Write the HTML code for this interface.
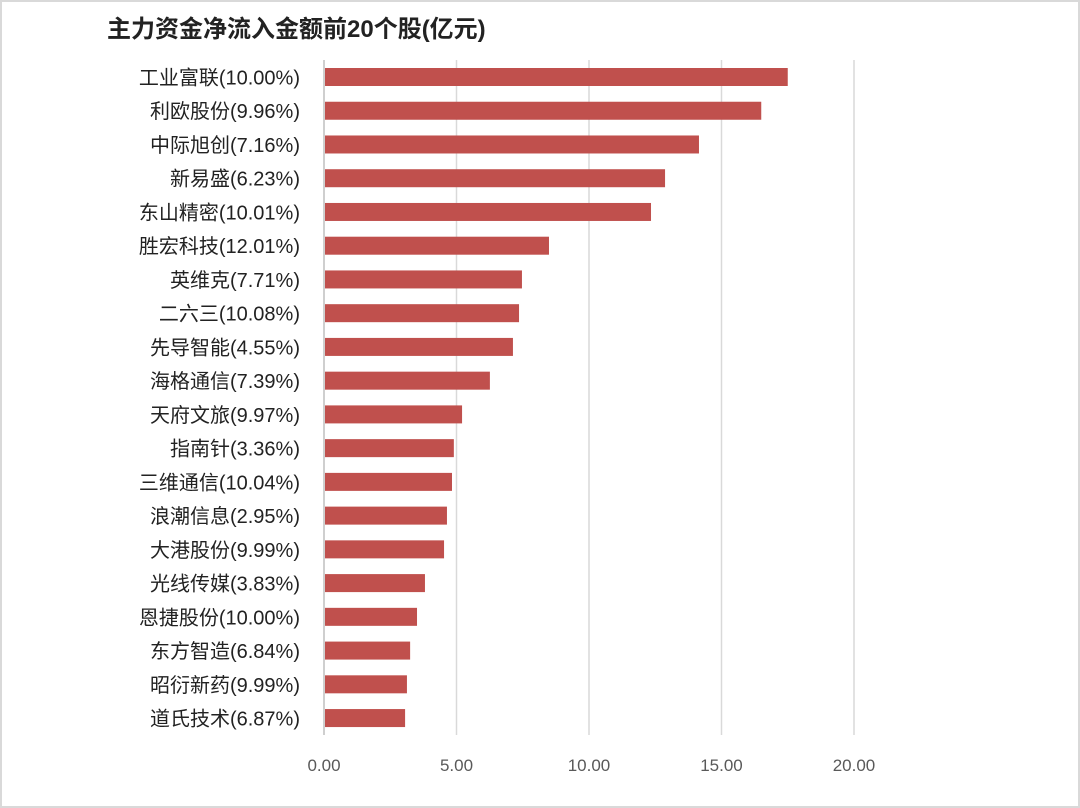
<!DOCTYPE html>
<html><head><meta charset="utf-8"><style>
html,body{margin:0;padding:0;background:#fff}
#wrap{position:relative;width:1076px;height:804px;border:2px solid #d9d9d9;overflow:hidden}
svg{position:absolute;left:-2px;top:-2px}
</style></head><body>
<div id="wrap">
<svg id="chart" width="1080" height="808"></svg>
</div>
<script>
const categories=["工业富联(10.00%)","利欧股份(9.96%)","中际旭创(7.16%)","新易盛(6.23%)","东山精密(10.01%)","胜宏科技(12.01%)","英维克(7.71%)","二六三(10.08%)","先导智能(4.55%)","海格通信(7.39%)","天府文旅(9.97%)","指南针(3.36%)","三维通信(10.04%)","浪潮信息(2.95%)","大港股份(9.99%)","光线传媒(3.83%)","恩捷股份(10.00%)","东方智造(6.84%)","昭衍新药(9.99%)","道氏技术(6.87%)"];
const values=[17.5,16.5,14.15,12.87,12.34,8.49,7.47,7.36,7.13,6.26,5.21,4.9,4.83,4.64,4.53,3.81,3.51,3.25,3.13,3.06];
const ticks=[0,5,10,15,20];
const tickLabels=["0.00","5.00","10.00","15.00","20.00"];
const svg=document.getElementById('chart');
const NS='http://www.w3.org/2000/svg';
const x=v=>324+v*26.5;
const y=i=>77+i*33.74;
function mk(t,a){const e=document.createElementNS(NS,t);for(const k in a)e.setAttribute(k,a[k]);svg.appendChild(e);return e;}
const title=mk('text',{x:107,y:37,'font-size':24,'font-weight':'bold','font-family':'"Liberation Sans","Noto Sans CJK SC",sans-serif',fill:'#222'});
title.textContent='主力资金净流入金额前20个股(亿元)';


ticks.forEach((t,i)=>{
 const g=mk('line',{x1:x(t),x2:x(t),y1:60,y2:735,stroke:i==0?'#bfbfbf':'#d9d9d9','stroke-width':1.5});
 
 
 const l=mk('text',{x:x(t),y:771,'text-anchor':'middle','font-size':17,'font-family':'"Liberation Sans",sans-serif',fill:'#595959'});
 l.textContent=tickLabels[i];
 
 
});
categories.forEach((c,i)=>{
 const b=mk('rect',{x:x(0)+1,y:y(i)-9,width:x(values[i])-x(0)-1,height:18,fill:'#c0504d'});
 
 
 const l=mk('text',{x:300,y:y(i)+7.5,'text-anchor':'end','font-size':20,'font-family':'"Liberation Sans","Noto Sans CJK SC",sans-serif',fill:'#222'});
 l.textContent=c;
 
 
});
</script>
</body></html>
